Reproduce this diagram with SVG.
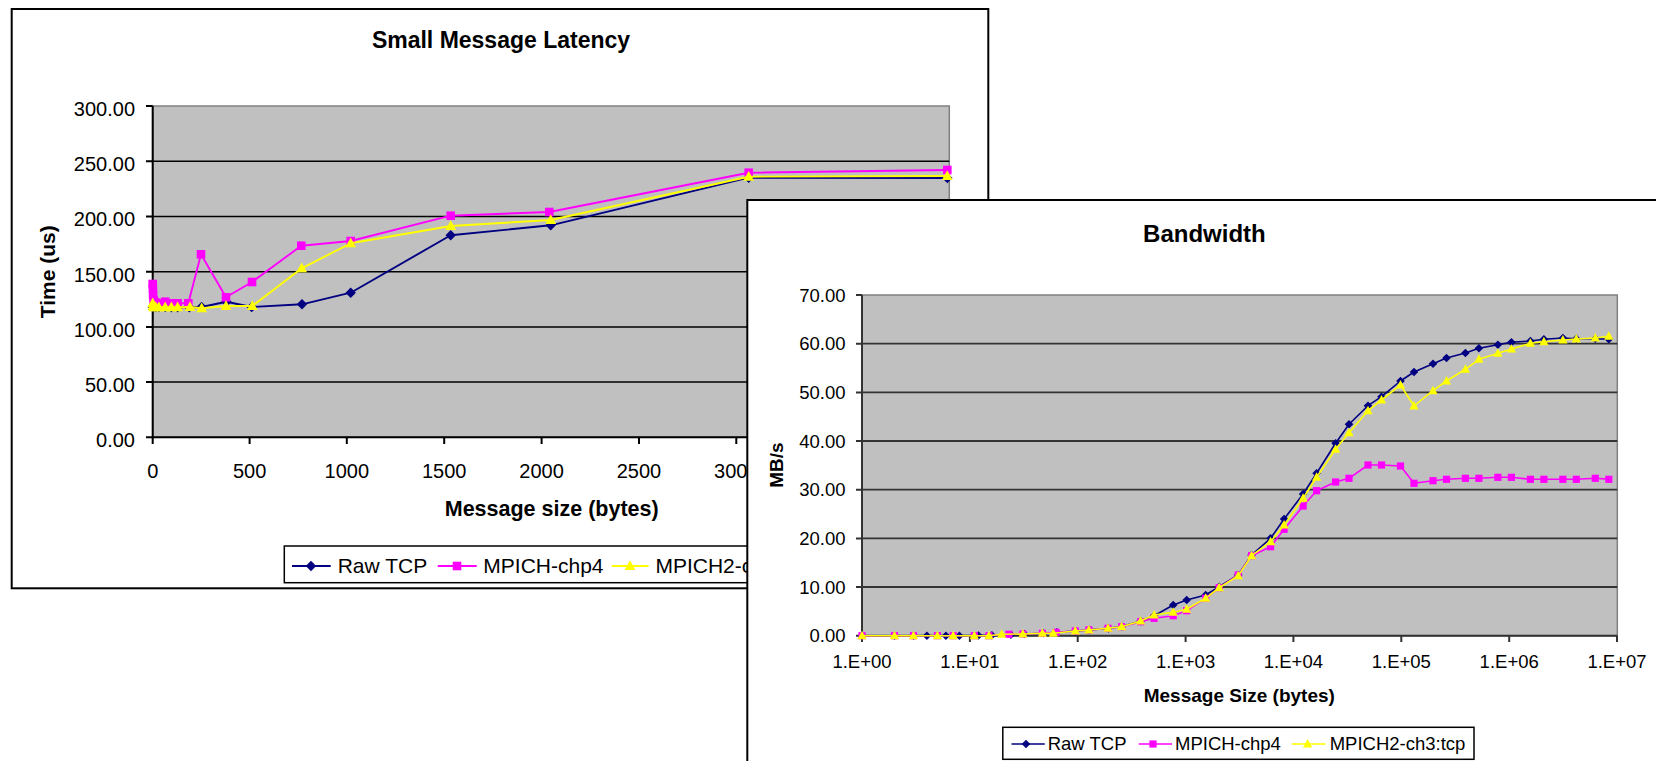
<svg xmlns="http://www.w3.org/2000/svg" width="1656" height="761" viewBox="0 0 1656 761">
<style>
  text { font-family: "Liberation Sans", Arial, sans-serif; fill: #000; }
  .title { font-weight: bold; text-anchor: middle; }
  .axt { font-weight: bold; text-anchor: middle; }
  .yl { text-anchor: end; }
  .xl { text-anchor: middle; }
  .plot { fill: #C0C0C0; stroke: #808080; stroke-width: 1.5; }
  .gridL { stroke: #000; stroke-width: 1.5; fill: none; }
  .gridR { stroke: #333; stroke-width: 1.8; fill: none; }
  .axisL { stroke: #000; stroke-width: 2; fill: none; }
  .axisR { stroke: #333; stroke-width: 2; fill: none; }
  .frame { fill: #fff; stroke: #000; stroke-width: 2; }
  .legend { fill: #fff; stroke: #000; stroke-width: 1.5; }
  .tcp { stroke: #000080; fill: none; stroke-linejoin: round; }
  .chp4 { stroke: #FF00FF; fill: none; stroke-linejoin: round; }
  .ch3 { stroke: #FFFF00; fill: none; stroke-linejoin: round; }
</style>
<defs>
  <path id="dmL" d="M0,-5.2 L5.2,0 L0,5.2 L-5.2,0Z" fill="#000080"/>
  <rect id="sqL" x="-4.3" y="-4.3" width="8.6" height="8.6" fill="#FF00FF"/>
  <path id="trL" d="M0,-5.8 L5.4,4 L-5.4,4Z" fill="#FFFF00"/>
  <path id="dmR" d="M0,-4.3 L4.3,0 L0,4.3 L-4.3,0Z" fill="#000080"/>
  <rect id="sqR" x="-3.6" y="-3.6" width="7.2" height="7.2" fill="#FF00FF"/>
  <path id="trR" d="M0,-5 L4.6,3.5 L-4.6,3.5Z" fill="#FFFF00"/>
</defs>
<rect width="1656" height="761" fill="#fff"/>

<!-- Small Message Latency chart -->
<g id="latency-chart">
  <rect class="frame" x="11.7" y="9" width="976.6" height="579.3"/>
  <text class="title" x="501" y="48.3" font-size="23">Small Message Latency</text>
  <rect class="plot" x="152.7" y="106" width="796.6" height="331.3"/>
  <g class="gridL">
    <path d="M152.7,161.2H949.3M152.7,216.4H949.3M152.7,271.7H949.3M152.7,326.9H949.3M152.7,382.1H949.3"/>
  </g>
  <g class="axisL">
    <path d="M152.7,106V437.3H949.3"/>
    <path d="M146,106H152.7M146,161.2H152.7M146,216.4H152.7M146,271.7H152.7M146,326.9H152.7M146,382.1H152.7M146,437.3H152.7"/>
    <path d="M152.7,437.3V444M249.6,437.3V444M346.8,437.3V444M444.2,437.3V444M541.6,437.3V444M639,437.3V444M736.3,437.3V444M833.6,437.3V444M930.9,437.3V444"/>
  </g>
  <g font-size="20">
    <text class="yl" x="135" y="116">300.00</text>
    <text class="yl" x="135" y="171.2">250.00</text>
    <text class="yl" x="135" y="226.4">200.00</text>
    <text class="yl" x="135" y="281.7">150.00</text>
    <text class="yl" x="135" y="336.9">100.00</text>
    <text class="yl" x="135" y="392.1">50.00</text>
    <text class="yl" x="135" y="447.3">0.00</text>
    <text class="xl" x="152.7" y="478.3">0</text>
    <text class="xl" x="249.6" y="478.3">500</text>
    <text class="xl" x="346.8" y="478.3">1000</text>
    <text class="xl" x="444.2" y="478.3">1500</text>
    <text class="xl" x="541.6" y="478.3">2000</text>
    <text class="xl" x="639" y="478.3">2500</text>
    <text class="xl" x="736.3" y="478.3">3000</text>
  </g>
  <text class="axt" font-size="21" transform="translate(55,271.7) rotate(-90)">Time (us)</text>
  <text class="axt" x="551.7" y="515.5" font-size="21.5">Message size (bytes)</text>

  <!-- series -->
  <g id="lat-tcp">
    <polyline class="tcp" stroke-width="1.9" points="152.7,307 152.9,307 153.1,307 153.5,307 154.3,307 155.8,307 158.9,307 165.2,307 171.4,307.3 177.6,307.3 189.3,307.3 201.6,307 226.4,301.7 251.7,307 302,304.3 350.7,292.7 450.7,235.3 550.7,225.3 748.7,177.7 947.3,178"/>
    <use href="#dmL" x="152.7" y="307"/><use href="#dmL" x="153.5" y="307"/><use href="#dmL" x="155.8" y="307"/>
    <use href="#dmL" x="158.9" y="307"/><use href="#dmL" x="165.2" y="307"/><use href="#dmL" x="171.4" y="307.3"/>
    <use href="#dmL" x="177.6" y="307.3"/><use href="#dmL" x="189.3" y="307.3"/><use href="#dmL" x="201.6" y="307"/>
    <use href="#dmL" x="226.4" y="301.7"/><use href="#dmL" x="251.7" y="307"/><use href="#dmL" x="302" y="304.3"/>
    <use href="#dmL" x="350.7" y="292.7"/><use href="#dmL" x="450.7" y="235.3"/><use href="#dmL" x="550.7" y="225.3"/>
    <use href="#dmL" x="748.7" y="177.7"/><use href="#dmL" x="947.3" y="178"/>
  </g>
  <g id="lat-chp4">
    <polyline class="chp4" stroke-width="1.9" points="152.7,284 152.9,288.3 153.1,295 153.5,300 154.3,302 155.8,302.7 158.9,303.3 165.2,301.7 171.4,303.3 177.6,303.3 188.3,303.3 201,254.3 226,297.3 252,282 301.3,245.7 350.7,241 450.7,215.7 549.3,212 748.7,172.7 947.3,170"/>
    <use href="#sqL" x="152.7" y="284"/><use href="#sqL" x="152.9" y="288.3"/><use href="#sqL" x="153.1" y="295"/>
    <use href="#sqL" x="153.5" y="300"/><use href="#sqL" x="154.3" y="302"/><use href="#sqL" x="155.8" y="302.7"/>
    <use href="#sqL" x="158.9" y="303.3"/><use href="#sqL" x="165.2" y="301.7"/><use href="#sqL" x="171.4" y="303.3"/>
    <use href="#sqL" x="177.6" y="303.3"/><use href="#sqL" x="188.3" y="303.3"/><use href="#sqL" x="201" y="254.3"/>
    <use href="#sqL" x="226" y="297.3"/><use href="#sqL" x="252" y="282"/><use href="#sqL" x="301.3" y="245.7"/>
    <use href="#sqL" x="350.7" y="241"/><use href="#sqL" x="450.7" y="215.7"/><use href="#sqL" x="549.3" y="212"/>
    <use href="#sqL" x="748.7" y="172.7"/><use href="#sqL" x="947.3" y="170"/>
  </g>
  <g id="lat-ch3">
    <polyline class="ch3" stroke-width="1.9" points="152.7,303.3 152.9,306 153.1,307 153.5,307.3 154.3,307.3 155.8,307.3 158.9,307.3 165.2,307.3 171.4,307.3 177.6,307.3 190,307 201.7,308.3 226,306 252.3,306 301.7,268.3 350.7,243.3 450.7,226 550.7,220 748.7,176.7 947.3,176"/>
    <use href="#trL" x="152.7" y="303.3"/><use href="#trL" x="152.9" y="306"/><use href="#trL" x="153.5" y="307.3"/>
    <use href="#trL" x="155.8" y="307.3"/><use href="#trL" x="158.9" y="307.3"/><use href="#trL" x="165.2" y="307.3"/>
    <use href="#trL" x="171.4" y="307.3"/><use href="#trL" x="177.6" y="307.3"/><use href="#trL" x="190" y="307"/>
    <use href="#trL" x="201.7" y="308.3"/><use href="#trL" x="226" y="306"/><use href="#trL" x="252.3" y="306"/>
    <use href="#trL" x="301.7" y="268.3"/><use href="#trL" x="350.7" y="243.3"/><use href="#trL" x="450.7" y="226"/>
    <use href="#trL" x="550.7" y="220"/><use href="#trL" x="748.7" y="176.7"/><use href="#trL" x="947.3" y="176"/>
  </g>

  <!-- legend -->
  <g id="lat-legend">
    <rect class="legend" x="284.3" y="546" width="560" height="36.7"/>
    <path class="tcp" stroke-width="1.9" d="M292,566H330.7"/>
    <use href="#dmL" x="311" y="566"/>
    <text x="337.7" y="572.7" font-size="21">Raw TCP</text>
    <path class="chp4" stroke-width="1.9" d="M437.7,566H476.7"/>
    <use href="#sqL" x="457" y="566"/>
    <text x="483.3" y="572.7" font-size="21">MPICH-chp4</text>
    <path class="ch3" stroke-width="1.9" d="M611.7,566H648.6"/>
    <use href="#trL" x="630" y="566"/>
    <text x="655.4" y="572.7" font-size="21">MPICH2-ch3:tcp</text>
  </g>
</g>

<!-- Bandwidth chart -->
<g id="bandwidth-chart">
  <rect class="frame" x="747.3" y="200" width="1000" height="600"/>
  <text class="title" x="1204.4" y="241.7" font-size="24">Bandwidth</text>
  <rect class="plot" x="862" y="295" width="755.3" height="340.7"/>
  <g class="gridR">
    <path d="M862,343.7H1617.3M862,392.4H1617.3M862,441H1617.3M862,489.7H1617.3M862,538.4H1617.3M862,587H1617.3"/>
  </g>
  <g class="axisR">
    <path d="M862,295V635.7H1617.3"/>
    <path d="M856,295H862M856,343.7H862M856,392.4H862M856,441H862M856,489.7H862M856,538.4H862M856,587H862M856,635.7H862"/>
    <path d="M862,635.7V642M969.9,635.7V642M1077.7,635.7V642M1185.6,635.7V642M1293.4,635.7V642M1401.3,635.7V642M1509.2,635.7V642M1617,635.7V642"/>
  </g>
  <g font-size="18.5">
    <text class="yl" x="845.5" y="301.5">70.00</text>
    <text class="yl" x="845.5" y="350.2">60.00</text>
    <text class="yl" x="845.5" y="398.9">50.00</text>
    <text class="yl" x="845.5" y="447.5">40.00</text>
    <text class="yl" x="845.5" y="496.2">30.00</text>
    <text class="yl" x="845.5" y="544.9">20.00</text>
    <text class="yl" x="845.5" y="593.5">10.00</text>
    <text class="yl" x="845.5" y="642.2">0.00</text>
    <text class="xl" x="862" y="668.3">1.E+00</text>
    <text class="xl" x="969.9" y="668.3">1.E+01</text>
    <text class="xl" x="1077.7" y="668.3">1.E+02</text>
    <text class="xl" x="1185.6" y="668.3">1.E+03</text>
    <text class="xl" x="1293.4" y="668.3">1.E+04</text>
    <text class="xl" x="1401.3" y="668.3">1.E+05</text>
    <text class="xl" x="1509.2" y="668.3">1.E+06</text>
    <text class="xl" x="1617" y="668.3">1.E+07</text>
  </g>
  <text class="axt" font-size="19" transform="translate(782.5,465) rotate(-90)">MB/s</text>
  <text class="axt" x="1239.3" y="701.7" font-size="19">Message Size (bytes)</text>

  <!-- series -->
  <g id="bw-tcp">
    <polyline class="tcp" stroke-width="1.6" points="862,635.7 894.5,635.7 913.5,635.7 926.9,635.7 945.9,635.7 959.4,635.7 978.4,635.5 991.9,635.2 1010.9,634.7 1024.3,634 1043.3,633.3 1056.8,632.3 1075.8,631 1089.3,629.9 1108.3,628.4 1121.8,626.5 1140.7,621.1 1154.2,615.7 1173.2,605 1186.7,600 1205.7,595 1219.2,586.7 1238.2,575 1251.6,555 1270.6,538.3 1284.1,519 1303.1,494 1316.6,473.3 1335.6,443.3 1349,424.3 1368,405.7 1381.5,396.7 1400.5,381 1414,372 1433,363.7 1446.5,358 1465.4,353 1478.9,348.3 1497.9,344.7 1511.4,342.3 1530.4,341 1543.9,339.3 1562.9,338 1576.3,338.7 1595.3,338.7 1608.8,339.3"/>
    <use href="#dmR" x="862" y="635.7"/><use href="#dmR" x="894.5" y="635.7"/><use href="#dmR" x="913.5" y="635.7"/>
    <use href="#dmR" x="926.9" y="635.7"/><use href="#dmR" x="945.9" y="635.7"/><use href="#dmR" x="959.4" y="635.7"/>
    <use href="#dmR" x="978.4" y="635.5"/><use href="#dmR" x="991.9" y="635.2"/><use href="#dmR" x="1010.9" y="634.7"/>
    <use href="#dmR" x="1024.3" y="634"/><use href="#dmR" x="1043.3" y="633.3"/><use href="#dmR" x="1056.8" y="632.3"/>
    <use href="#dmR" x="1075.8" y="631"/><use href="#dmR" x="1089.3" y="629.9"/><use href="#dmR" x="1108.3" y="628.4"/>
    <use href="#dmR" x="1121.8" y="626.5"/><use href="#dmR" x="1140.7" y="621.1"/><use href="#dmR" x="1154.2" y="615.7"/>
    <use href="#dmR" x="1173.2" y="605"/><use href="#dmR" x="1186.7" y="600"/><use href="#dmR" x="1205.7" y="595"/>
    <use href="#dmR" x="1219.2" y="586.7"/><use href="#dmR" x="1238.2" y="575"/><use href="#dmR" x="1251.6" y="555"/>
    <use href="#dmR" x="1270.6" y="538.3"/><use href="#dmR" x="1284.1" y="519"/><use href="#dmR" x="1303.1" y="494"/>
    <use href="#dmR" x="1316.6" y="473.3"/><use href="#dmR" x="1335.6" y="443.3"/><use href="#dmR" x="1349" y="424.3"/>
    <use href="#dmR" x="1368" y="405.7"/><use href="#dmR" x="1381.5" y="396.7"/><use href="#dmR" x="1400.5" y="381"/>
    <use href="#dmR" x="1414" y="372"/><use href="#dmR" x="1433" y="363.7"/><use href="#dmR" x="1446.5" y="358"/>
    <use href="#dmR" x="1465.4" y="353"/><use href="#dmR" x="1478.9" y="348.3"/><use href="#dmR" x="1497.9" y="344.7"/>
    <use href="#dmR" x="1511.4" y="342.3"/><use href="#dmR" x="1530.4" y="341"/><use href="#dmR" x="1543.9" y="339.3"/>
    <use href="#dmR" x="1562.9" y="338"/><use href="#dmR" x="1576.3" y="338.7"/><use href="#dmR" x="1595.3" y="338.7"/>
    <use href="#dmR" x="1608.8" y="339.3"/>
  </g>
  <g id="bw-chp4">
    <polyline class="chp4" stroke-width="1.6" points="862,635.7 894.5,635.7 913.5,635.7 937.4,635.7 953.2,635.7 974.3,635.7 988.9,635.7 1008.9,634.3 1022.9,634 1042.4,633.3 1056.1,632.3 1075.3,631 1088.9,630 1108,628.3 1121.6,626.7 1140.6,621.7 1154.1,618.3 1173.2,615.7 1186.6,610.7 1205.7,598.3 1219.2,587.7 1238.2,575 1251.6,555.7 1270.6,546.7 1284.1,529.3 1303.1,506 1316.6,490.7 1335.6,482 1349,478.3 1368,465 1381.5,465 1400.5,466 1414,483.3 1433,480.7 1446.5,479.3 1465.4,478.3 1478.9,478.3 1497.9,477.3 1511.4,477.3 1530.4,479.3 1543.9,479.3 1562.9,479.3 1576.3,479.3 1595.3,478.3 1608.8,479.3"/>
    <use href="#sqR" x="862" y="635.7"/><use href="#sqR" x="894.5" y="635.7"/><use href="#sqR" x="913.5" y="635.7"/>
    <use href="#sqR" x="937.4" y="635.7"/><use href="#sqR" x="953.2" y="635.7"/><use href="#sqR" x="974.3" y="635.7"/>
    <use href="#sqR" x="988.9" y="635.7"/><use href="#sqR" x="1008.9" y="634.3"/><use href="#sqR" x="1022.9" y="634"/>
    <use href="#sqR" x="1042.4" y="633.3"/><use href="#sqR" x="1056.1" y="632.3"/><use href="#sqR" x="1075.3" y="631"/>
    <use href="#sqR" x="1088.9" y="630"/><use href="#sqR" x="1108" y="628.3"/><use href="#sqR" x="1121.6" y="626.7"/>
    <use href="#sqR" x="1140.6" y="621.7"/><use href="#sqR" x="1154.1" y="618.3"/><use href="#sqR" x="1173.2" y="615.7"/>
    <use href="#sqR" x="1186.6" y="610.7"/><use href="#sqR" x="1205.7" y="598.3"/><use href="#sqR" x="1219.2" y="587.7"/>
    <use href="#sqR" x="1238.2" y="575"/><use href="#sqR" x="1251.6" y="555.7"/><use href="#sqR" x="1270.6" y="546.7"/>
    <use href="#sqR" x="1284.1" y="529.3"/><use href="#sqR" x="1303.1" y="506"/><use href="#sqR" x="1316.6" y="490.7"/>
    <use href="#sqR" x="1335.6" y="482"/><use href="#sqR" x="1349" y="478.3"/><use href="#sqR" x="1368" y="465"/>
    <use href="#sqR" x="1381.5" y="465"/><use href="#sqR" x="1400.5" y="466"/><use href="#sqR" x="1414" y="483.3"/>
    <use href="#sqR" x="1433" y="480.7"/><use href="#sqR" x="1446.5" y="479.3"/><use href="#sqR" x="1465.4" y="478.3"/>
    <use href="#sqR" x="1478.9" y="478.3"/><use href="#sqR" x="1497.9" y="477.3"/><use href="#sqR" x="1511.4" y="477.3"/>
    <use href="#sqR" x="1530.4" y="479.3"/><use href="#sqR" x="1543.9" y="479.3"/><use href="#sqR" x="1562.9" y="479.3"/>
    <use href="#sqR" x="1576.3" y="479.3"/><use href="#sqR" x="1595.3" y="478.3"/><use href="#sqR" x="1608.8" y="479.3"/>
  </g>
  <g id="bw-ch3">
    <polyline class="ch3" stroke-width="1.6" points="862,635.7 894.5,635.7 913.5,635.7 937.4,635.7 953.2,635.7 974.3,635.7 988.9,635.7 1001.7,634.3 1022.9,634 1042.4,633.3 1053.3,633.3 1075.3,631 1088.9,630 1108,628.3 1121.6,626.7 1140.6,621 1154.1,615 1173.2,612.3 1186.6,609.3 1205.7,598.3 1219.2,587.7 1238.2,575.7 1251.6,555.7 1270.6,541.7 1284.1,525 1303.1,498.3 1316.6,477.3 1335.6,449.3 1349,432.7 1368,410.7 1381.5,400 1400.5,385 1414,406 1433,390.7 1446.5,381 1465.4,369.3 1478.9,359.3 1497.9,353.3 1511.4,349 1530.4,343.3 1543.9,341.7 1562.9,340 1576.3,339 1595.3,338 1608.8,336.3"/>
    <use href="#trR" x="862" y="635.7"/><use href="#trR" x="894.5" y="635.7"/><use href="#trR" x="913.5" y="635.7"/>
    <use href="#trR" x="937.4" y="635.7"/><use href="#trR" x="953.2" y="635.7"/><use href="#trR" x="974.3" y="635.7"/>
    <use href="#trR" x="988.9" y="635.7"/><use href="#trR" x="1001.7" y="634.3"/><use href="#trR" x="1022.9" y="634"/>
    <use href="#trR" x="1042.4" y="633.3"/><use href="#trR" x="1053.3" y="633.3"/><use href="#trR" x="1075.3" y="631"/>
    <use href="#trR" x="1088.9" y="630"/><use href="#trR" x="1108" y="628.3"/><use href="#trR" x="1121.6" y="626.7"/>
    <use href="#trR" x="1140.6" y="621"/><use href="#trR" x="1154.1" y="615"/><use href="#trR" x="1173.2" y="612.3"/>
    <use href="#trR" x="1186.6" y="609.3"/><use href="#trR" x="1205.7" y="598.3"/><use href="#trR" x="1219.2" y="587.7"/>
    <use href="#trR" x="1238.2" y="575.7"/><use href="#trR" x="1251.6" y="555.7"/><use href="#trR" x="1270.6" y="541.7"/>
    <use href="#trR" x="1284.1" y="525"/><use href="#trR" x="1303.1" y="498.3"/><use href="#trR" x="1316.6" y="477.3"/>
    <use href="#trR" x="1335.6" y="449.3"/><use href="#trR" x="1349" y="432.7"/><use href="#trR" x="1368" y="410.7"/>
    <use href="#trR" x="1381.5" y="400"/><use href="#trR" x="1400.5" y="385"/><use href="#trR" x="1414" y="406"/>
    <use href="#trR" x="1433" y="390.7"/><use href="#trR" x="1446.5" y="381"/><use href="#trR" x="1465.4" y="369.3"/>
    <use href="#trR" x="1478.9" y="359.3"/><use href="#trR" x="1497.9" y="353.3"/><use href="#trR" x="1511.4" y="349"/>
    <use href="#trR" x="1530.4" y="343.3"/><use href="#trR" x="1543.9" y="341.7"/><use href="#trR" x="1562.9" y="340"/>
    <use href="#trR" x="1576.3" y="339"/><use href="#trR" x="1595.3" y="338"/><use href="#trR" x="1608.8" y="336.3"/>
  </g>

  <!-- legend -->
  <g id="bw-legend">
    <rect class="legend" x="1002.8" y="727.3" width="471.2" height="32"/>
    <path class="tcp" stroke-width="1.6" d="M1011.5,744H1044.8"/>
    <use href="#dmR" x="1026" y="744"/>
    <text x="1047.7" y="750" font-size="18.5">Raw TCP</text>
    <path class="chp4" stroke-width="1.6" d="M1138.8,744H1172"/>
    <use href="#sqR" x="1153" y="744"/>
    <text x="1175" y="750" font-size="18.5">MPICH-chp4</text>
    <path class="ch3" stroke-width="1.6" d="M1291.8,744H1325.7"/>
    <use href="#trR" x="1307.6" y="744"/>
    <text x="1329.7" y="750" font-size="18.5">MPICH2-ch3:tcp</text>
  </g>
</g>
</svg>
